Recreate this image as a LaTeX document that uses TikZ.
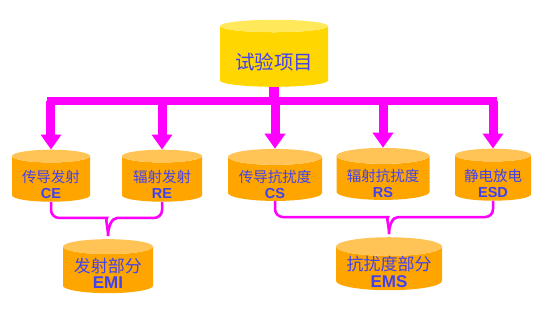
\documentclass[tikz,border=0pt]{standalone}
\usepackage{fontspec}
\setmainfont{Liberation Sans}
\newfontfamily\cjk{Noto Sans CJK SC}
\usetikzlibrary{shapes.geometric,arrows.meta,calc}
\definecolor{cylbody}{RGB}{255,165,0}
\definecolor{cyltop}{RGB}{255,196,85}
\definecolor{goldbody}{RGB}{255,214,0}
\definecolor{goldtop}{RGB}{255,232,90}
\definecolor{txtblue}{RGB}{65,65,240}
\definecolor{mag}{RGB}{255,0,255}
\newcommand\cyltext[5]{\raisebox{-#5pt}[0pt][0pt]{\fontsize{#1}{#2}\selectfont\begin{tabular}{@{}c@{}}{\cjk #3}\\\bfseries #4\end{tabular}}}
\begin{document}
\begin{tikzpicture}[x=1pt,y=-1pt,
 cyl/.style={cylinder, shape border rotate=90, aspect=0.22, draw=none, cylinder uses custom fill, cylinder body fill=cylbody, cylinder end fill=cyltop, inner sep=0pt, text=txtblue},
 gcyl/.style={cyl, cylinder body fill=goldbody, cylinder end fill=goldtop},
 bus/.style={draw=mag, line width=8pt, line cap=rect},
 drop/.style={draw=mag, line width=9pt, -{Triangle[width=20pt,length=15pt]}},
 brace/.style={draw=mag, line width=2.5pt, rounded corners=8pt, preaction={draw=gray!70, transform canvas={xshift=1pt,yshift=-1pt}}},
]
\useasboundingbox (0,0) rectangle (558,314);
\node[gcyl, aspect=0.16, minimum width=108pt, minimum height=67pt] (top) at (274,56.5) {\raisebox{-13pt}[0pt][0pt]{\fontsize{19.5}{19.5}\selectfont\cjk 试验项目}};
\node[cyl, minimum width=78pt, minimum height=52pt] (ce) at (51,179) {\cyltext{14.5}{16}{传导发射}{CE}{11.5}};
\node[cyl, minimum width=80pt, minimum height=52pt] (re) at (162,179) {\cyltext{14.5}{16}{辐射发射}{RE}{11.5}};
\node[cyl, minimum width=94pt, minimum height=52pt] (cs) at (275,179) {\cyltext{14.5}{16}{传导抗扰度}{CS}{11.5}};
\node[cyl, minimum width=93pt, minimum height=52pt] (rs) at (383,178) {\cyltext{14.5}{16}{辐射抗扰度}{RS}{11.5}};
\node[cyl, minimum width=76pt, minimum height=52pt] (esd) at (493,178) {\cyltext{14.5}{16}{静电放电}{ESD}{11.5}};
\node[cyl, minimum width=90pt, minimum height=54pt] (emi) at (108,270) {\cyltext{17}{15}{发射部分}{EMI}{10}};
\node[cyl, minimum width=106pt, minimum height=53pt] (ems) at (389,268.5) {\cyltext{17}{15}{抗扰度部分}{EMS}{10}};
\coordinate (busy) at (0,101);
\draw[draw=mag, line width=10pt] (top.south) -- (top.south |- busy);
\draw[bus] (ce.north |- busy) -- (esd.north |- busy);
\foreach \n in {ce,re,cs,rs,esd}{\draw[drop] (\n.north |- busy) -- (\n.north);}
\draw[brace] (ce.south) |- ($(emi.north)+(-9,-21)$) [sharp corners] .. controls +(6,0) and +(0,-8) .. ($(emi.north)+(0,-3)$) .. controls +(0,-8) and +(-6,0) .. ($(emi.north)+(9,-21)$) [rounded corners=8pt] -| (re.south);
\draw[brace] (cs.south) |- ($(ems.north)+(-9,-20)$) [sharp corners] .. controls +(6,0) and +(0,-8) .. ($(ems.north)+(0,-3)$) .. controls +(0,-8) and +(-6,0) .. ($(ems.north)+(9,-20)$) [rounded corners=8pt] -| (esd.south);
\end{tikzpicture}
\end{document}
